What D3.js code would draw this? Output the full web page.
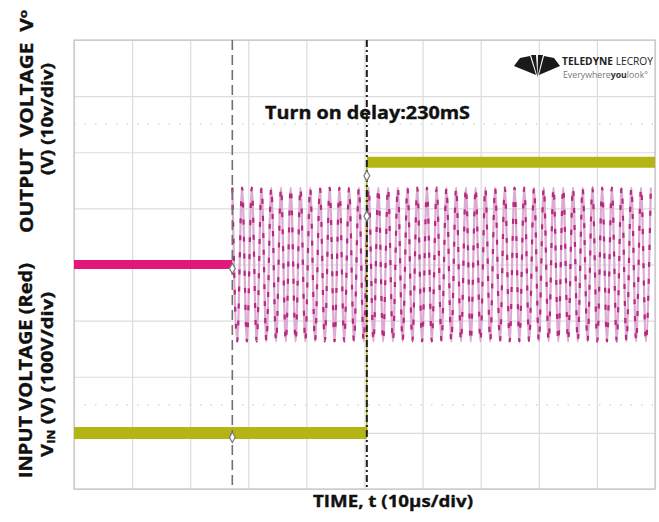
<!DOCTYPE html>
<html><head><meta charset="utf-8">
<script src="https://cdn.jsdelivr.net/npm/d3@7"></script>
<style>
body{margin:0;background:#fff}
text{font-family:"Open Sans",sans-serif;font-weight:700;fill:#111}
text.lab{stroke:#111;stroke-width:0.35px}
</style>
</head><body><svg id="c" width="659" height="522"></svg>
<script>
// ---- data (time in µs, 10 µs/div; vertical in screen divisions) ----
const timeTicks = [0,10,20,30,40,50,60,70,80,90,100];
const divTicks = [-4,-3,-2,-1,0,1,2,3,4];
const dottedLevels = [2.5,-2.5];

const inputFlatTimes = [0, 27.25];
const inputFlatValues = [0, 0];

const acPeakTimes = [27.25,28.09,28.93,29.76,30.60,31.44,32.28,33.11,33.95,34.79,
  35.63,36.46,37.30,38.14,38.98,39.81,40.65,41.49,42.33,43.16,
  44.00,44.84,45.68,46.51,47.35,48.19,49.03,49.86,50.70,51.54,
  52.38,53.21,54.05,54.89,55.73,56.56,57.40,58.24,59.08,59.91,
  60.75,61.59,62.43,63.26,64.10,64.94,65.78,66.61,67.45,68.29,
  69.13,69.96,70.80,71.64,72.48,73.31,74.15,74.99,75.83,76.66,
  77.50,78.34,79.18,80.01,80.85,81.69,82.53,83.36,84.20,85.04,
  85.88,86.71,87.55,88.39,89.23,90.06,90.90,91.74,92.58,93.41,
  94.25,95.09,95.93,96.76,97.60,98.44,99.28];
const acPeakValues = [1.37,-1.37,1.37,-1.37,1.37,-1.37,1.37,-1.37,1.37,-1.37,
  1.37,-1.37,1.37,-1.37,1.37,-1.37,1.37,-1.37,1.37,-1.37,
  1.37,-1.37,1.37,-1.37,1.37,-1.37,1.37,-1.37,1.37,-1.37,
  1.37,-1.37,1.37,-1.37,1.37,-1.37,1.37,-1.37,1.37,-1.37,
  1.37,-1.37,1.37,-1.37,1.37,-1.37,1.37,-1.37,1.37,-1.37,
  1.37,-1.37,1.37,-1.37,1.37,-1.37,1.37,-1.37,1.37,-1.37,
  1.37,-1.37,1.37,-1.37,1.37,-1.37,1.37,-1.37,1.37,-1.37,
  1.37,-1.37,1.37,-1.37,1.37,-1.37,1.37,-1.37,1.37,-1.37,
  1.37,-1.37,1.37,-1.37,1.37,-1.37,1.37];

const outputLowTimes = [0, 50.4];
const outputLowValues = [-3.0, -3.0];
const outputHighTimes = [50.4, 100];
const outputHighValues = [1.82, 1.82];
const outputEdgeTimes = [50.4, 50.4];
const outputEdgeValues = [-3.0, 1.82];

const cursorTimes = [27.25, 50.4];
const markerTimes = [27.25, 27.25, 50.4, 50.4];
const markerValues = [-0.07, -3.08, 1.58, 0.86];

// ---- layout ----
const svg = d3.select("#c");
const L = 74, R = 655, T = 40, B = 489;
const x = d3.scaleLinear().domain([0,100]).range([L,R]);
const y = d3.scaleLinear().domain([-4,4]).range([B,T]);
const zip = (a,b)=>a.map((d,i)=>[d,b[i]]);
const line = d3.line().x(d=>x(d[0])).y(d=>y(d[1]));

svg.append("defs").append("clipPath").attr("id","clip")
  .append("rect").attr("x",L).attr("y",T).attr("width",R-L).attr("height",B-T);

// grid
const gx = svg.append("g").attr("transform",`translate(0,${B})`)
  .call(d3.axisBottom(x).tickValues(timeTicks).tickSize(-(B-T)).tickFormat(""));
const gy = svg.append("g").attr("transform",`translate(${L},0)`)
  .call(d3.axisLeft(y).tickValues(divTicks).tickSize(-(R-L)).tickFormat(""));
[gx,gy].forEach(g=>{ g.select(".domain").remove();
  g.selectAll(".tick line").attr("stroke","#dcdcdc").attr("stroke-width",1.2); });

dottedLevels.forEach(v=>{
  svg.append("path").attr("d",line([[0,v],[100,v]]))
    .attr("stroke","#cfcfcf").attr("stroke-width",1.3).attr("stroke-dasharray","1.5 9").attr("fill","none");
});

svg.append("rect").attr("x",L).attr("y",T).attr("width",R-L).attr("height",B-T)
  .attr("fill","none").attr("stroke","#c4c4c4").attr("stroke-width",1.2);

const plot = svg.append("g").attr("clip-path","url(#clip)");

// AC input oscillation
const acLine = d3.line().x(d=>x(d[0])).y(d=>y(d[1])).curve(d3.curveMonotoneX);
const acPts = zip(acPeakTimes, acPeakValues);
plot.append("path").attr("d",acLine(acPts)).attr("fill","none")
  .attr("stroke","#dcaad2").attr("stroke-width",2.2);
plot.append("path").attr("d",acLine(acPts)).attr("fill","none")
  .attr("stroke","#b82a80").attr("stroke-width",2.2).attr("stroke-dasharray","5 12");

// input flat (before switch-on)
plot.append("path").attr("d",line(zip(inputFlatTimes,inputFlatValues)))
  .attr("stroke","#e3177b").attr("stroke-width",9).attr("fill","none");

// output trace
plot.append("path").attr("d",line(zip(outputLowTimes,outputLowValues)))
  .attr("stroke","#b4b414").attr("stroke-width",12).attr("fill","none");
plot.append("path").attr("d",line(zip(outputHighTimes,outputHighValues)))
  .attr("stroke","#b4b414").attr("stroke-width",11).attr("fill","none");
plot.append("path").attr("d",line(zip(outputEdgeTimes,outputEdgeValues)))
  .attr("stroke","#b4b414").attr("stroke-width",1.5).attr("fill","none");

// cursors
svg.append("path").attr("d",line([[cursorTimes[0],4],[cursorTimes[0],-4]]))
  .attr("stroke","#707070").attr("stroke-width",1.6).attr("stroke-dasharray","10 5").attr("fill","none");
svg.append("path").attr("d",line([[cursorTimes[1],4],[cursorTimes[1],-4]]))
  .attr("stroke","#1e1e1e").attr("stroke-width",2).attr("stroke-dasharray","7 3 2 3").attr("fill","none");

markerTimes.forEach((t,i)=>{
  svg.append("path").attr("d",d3.symbol(d3.symbolDiamond,30)())
    .attr("transform",`translate(${x(t)},${y(markerValues[i])})`)
    .attr("fill","#fff").attr("stroke","#777").attr("stroke-width",1.2);
});

// annotation
svg.append("text").attr("class","lab").attr("x",265).attr("y",119).attr("font-size",17)
  .attr("textLength",205).attr("lengthAdjust","spacingAndGlyphs")
  .text("Turn on delay:230mS");

// logo
const logo = svg.append("g").attr("fill","#1a1a1a");
[[[514,66],[520,58],[530,56],[536,75]],[[531,55],[536,55],[537.5,77]],
 [[538,55],[543,55],[537.5,77]],[[544,56],[554,58],[560,66],[539,75]]]
  .forEach(p=>logo.append("path").attr("d","M"+p.join("L")+"Z"));
svg.append("text").attr("x",562).attr("y",64.5).attr("font-size",10)
  .attr("textLength",91).attr("lengthAdjust","spacingAndGlyphs").style("fill","#222")
  .call(t=>{t.append("tspan").text("TELEDYNE");
            t.append("tspan").attr("font-weight",400).text(" LECROY");});
svg.append("text").attr("x",563).attr("y",77.5).attr("font-size",8.5)
  .attr("textLength",85).attr("lengthAdjust","spacingAndGlyphs").style("fill","#777")
  .call(t=>{t.append("tspan").attr("font-weight",400).text("Everywhere");
            t.append("tspan").style("fill","#333").text("you");
            t.append("tspan").attr("font-weight",400).text("look\u00b0");});

// axis titles
svg.append("text").attr("class","lab").attr("x",393).attr("y",507).attr("text-anchor","middle").attr("font-size",16)
  .attr("textLength",160).attr("lengthAdjust","spacingAndGlyphs")
  .text("TIME, t (10\u00b5s/div)");

function vlabel(cx, cy, len, size, build){
  const t = svg.append("text").attr("class","lab").attr("transform",`translate(${cx},${cy}) rotate(-90)`)
    .attr("text-anchor","middle").attr("font-size",size)
    .attr("textLength",len).attr("lengthAdjust","spacingAndGlyphs").style("white-space","pre");
  build(t);
}
vlabel(33,121.5,223,17,t=>{t.append("tspan").text("OUTPUT  VOLTAGE  V");
  t.append("tspan").attr("font-size",11).attr("dy",-6).text("o");});
vlabel(53,119,112,16,t=>t.text("(V) (10v/div)"));
vlabel(32,370.5,215,17,t=>t.text("INPUT VOLTAGE (Red)"));
vlabel(53,374.5,165,16,t=>{t.append("tspan").text("V");
  t.append("tspan").attr("font-size",10).attr("dy",2).text("IN");
  t.append("tspan").attr("dy",-2).text(" (V) (100V/div)");});
</script></body></html>
